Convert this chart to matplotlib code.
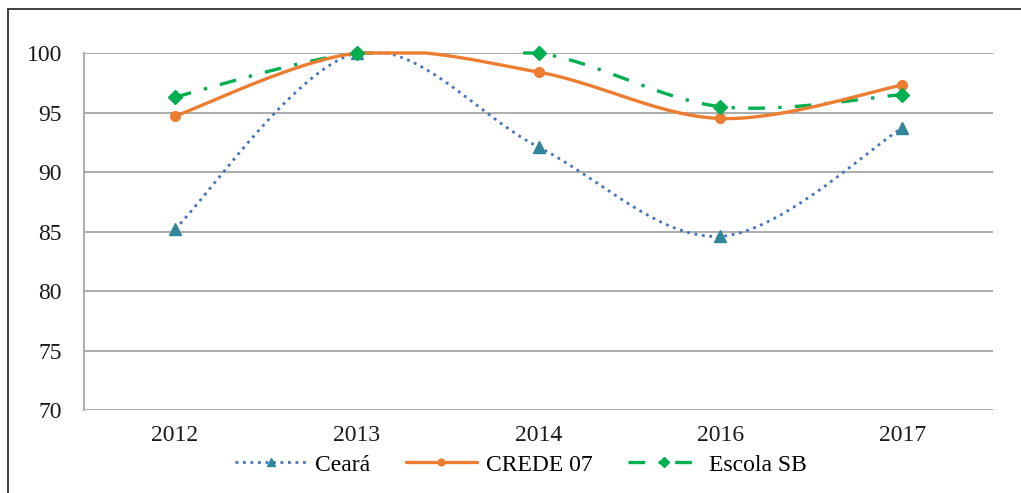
import numpy as np
import matplotlib

matplotlib.use("Agg")
import matplotlib.pyplot as plt
from matplotlib.lines import Line2D

# data
years = ["2012", "2013", "2014", "2016", "2017"]
ceara = [85.2, 100.0, 92.1, 84.6, 93.7]
crede = [94.7, 100.0, 98.4, 94.5, 97.3]
escola = [96.3, 100.0, 100.0, 95.5, 96.5]
y_ticks = [70, 75, 80, 85, 90, 95, 100]

plt.rcParams["font.family"] = ["Liberation Serif", "DejaVu Serif"]


def smooth(xs, ys, n=60):
    """Excel-like smoothed line: cubic Bezier through the points,
    cut off where it overshoots the top of the plot area."""
    pts = np.column_stack([xs, ys]).astype(float)
    out = []
    for i in range(len(pts) - 1):
        p0, p3 = pts[i], pts[i + 1]
        prev = pts[i - 1] if i > 0 else pts[i]
        nxt = pts[i + 2] if i + 2 < len(pts) else pts[i + 1]
        c1 = p0 + (p3 - prev) / 6
        c2 = p3 - (nxt - p0) / 6
        t = np.linspace(0, 1, n)[:, None]
        seg = (1 - t) ** 3 * p0 + 3 * (1 - t) ** 2 * t * c1 + 3 * (1 - t) * t ** 2 * c2 + t ** 3 * p3
        out.append(seg if i == 0 else seg[1:])
    curve = np.vstack(out)
    top = y_ticks[-1]
    cy = curve[:, 1].copy()
    cy[cy > top + 0.2] = np.nan
    return curve[:, 0], np.minimum(cy, top)


fig = plt.figure(figsize=(10.21, 4.93), dpi=100)
ax = fig.add_axes([0.0823, 0.168, 0.8903, 0.7245])

x = np.arange(len(years))
# (label, values, line style, marker style, line zorder)
series = [
    ("Ceará", ceara, dict(color="#4472C4", lw=2.0, dashes=(1, 1.7), dash_capstyle="butt"),
     dict(marker="^", color="#31869B", ms=9), 2.5),
    ("CREDE 07", crede, dict(color="#ED7D31", lw=2.4, solid_capstyle="round"),
     dict(marker="o", color="#ED7D31", ms=7), 3),
    ("Escola SB", escola, dict(color="#00B050", lw=2.4, dashes=(5, 4, 1, 4), dash_capstyle="butt"),
     dict(marker="D", color="#00B050", ms=7.5), 2.8),
]

handles = []
for label, vals, line_kw, mark_kw, z in series:
    sx, sy = smooth(x, vals)
    ax.plot(sx, sy, clip_on=False, zorder=z, **line_kw)
    ax.plot(x, vals, linestyle="none", marker=mark_kw["marker"], ms=mark_kw["ms"],
            color=mark_kw["color"], mec=mark_kw["color"], clip_on=False, zorder=4)
    handles.append(Line2D([], [], marker=mark_kw["marker"], ms=mark_kw["ms"] * 0.7,
                          mfc=mark_kw["color"], mec=mark_kw["color"], **line_kw))

ax.set_xlim(-0.5, len(years) - 0.5)
ax.set_ylim(y_ticks[0], y_ticks[-1])
ax.set_xticks(x)
ax.set_xticklabels(years)
ax.set_yticks(y_ticks)
ax.yaxis.grid(True, color="#A6A6A6", lw=1.3)
ax.set_axisbelow(True)
ax.tick_params(axis="both", length=0, labelsize=17, colors="#1a1a1a")
ax.tick_params(axis="y", pad=16)
ax.tick_params(axis="x", pad=11)
for side in ["top", "right", "bottom"]:
    ax.spines[side].set_visible(False)
ax.spines["left"].set_color("#A6A6A6")
ax.spines["left"].set_linewidth(1.3)

fig.legend(handles, [s[0] for s in series], loc="center", bbox_to_anchor=(0.51, 0.057),
           ncol=3, frameon=False, fontsize=17, handlelength=3.0, handletextpad=0.4,
           columnspacing=1.5)

# outer frame (top and left edges are visible in the reference)
fig.add_artist(Line2D([8 / 1021, 1.0], [1 - 9 / 493, 1 - 9 / 493], transform=fig.transFigure,
                      color="#333333", lw=1.3))
fig.add_artist(Line2D([8 / 1021, 8 / 1021], [0.0, 1 - 9 / 493], transform=fig.transFigure,
                      color="#333333", lw=1.3))

fig.savefig("out.png", dpi=100)
